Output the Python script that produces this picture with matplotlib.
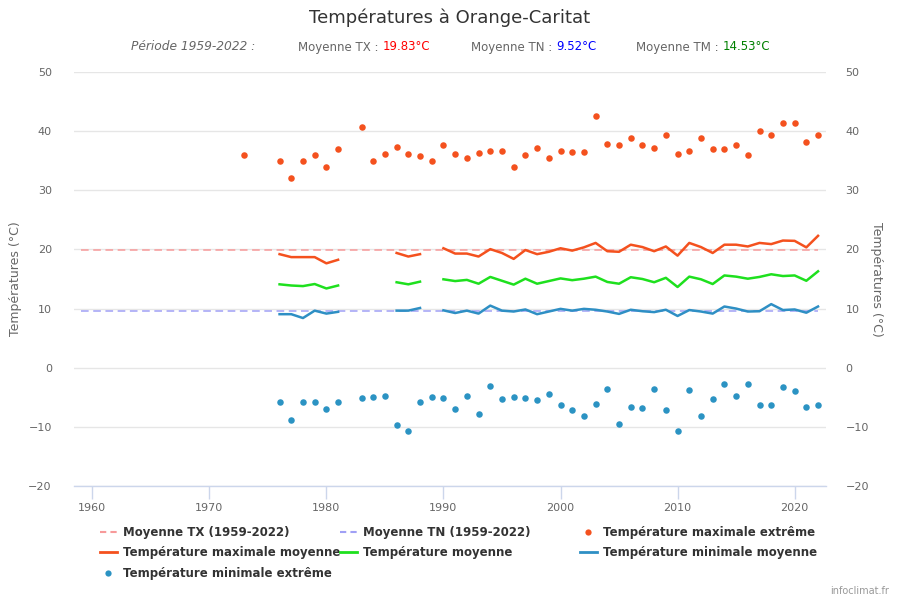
import numpy as np
import matplotlib
matplotlib.use("Agg")
import matplotlib.pyplot as plt
from matplotlib.lines import Line2D

# ---------------- data ----------------
avg_years = [1959, 2022]
avg_tx = 19.83
avg_tn = 9.52
avg_tm = 14.53

txx_years = [1973, 1976, 1977, 1978, 1979, 1980, 1981, 1983, 1984, 1985, 1986, 1987,
             1988, 1989, 1990, 1991, 1992, 1993, 1994, 1995, 1996, 1997, 1998, 1999,
             2000, 2001, 2002, 2003, 2004, 2005, 2006, 2007, 2008, 2009, 2010, 2011,
             2012, 2013, 2014, 2015, 2016, 2017, 2018, 2019, 2020, 2021, 2022]
txx_vals = [36.0, 35.0, 32.1, 35.0, 36.0, 33.9, 37.0, 40.7, 35.0, 36.2, 37.3, 36.2,
            35.8, 35.0, 37.7, 36.2, 35.5, 36.3, 36.7, 36.7, 33.9, 36.0, 37.2, 35.5,
            36.7, 36.5, 36.5, 42.6, 37.9, 37.7, 38.9, 37.7, 37.2, 39.3, 36.2, 36.7,
            38.9, 36.9, 36.9, 37.6, 35.9, 40.1, 39.3, 41.3, 41.3, 38.2, 39.3]

tnn_years = [1976, 1977, 1978, 1979, 1980, 1981, 1983, 1984, 1985, 1986, 1987, 1988,
             1989, 1990, 1991, 1992, 1993, 1994, 1995, 1996, 1997, 1998, 1999, 2000,
             2001, 2002, 2003, 2004, 2005, 2006, 2007, 2008, 2009, 2010, 2011, 2012,
             2013, 2014, 2015, 2016, 2017, 2018, 2019, 2020, 2021, 2022]
tnn_vals = [-5.85, -8.9, -5.85, -5.85, -6.9, -5.85, -5.2, -5.0, -4.7, -9.7, -10.7, -5.85,
            -5.0, -5.2, -7.0, -4.7, -7.9, -3.15, -5.35, -5.0, -5.2, -5.5, -4.5, -6.35,
            -7.2, -8.2, -6.2, -3.65, -9.55, -6.7, -6.85, -3.65, -7.2, -10.7, -3.8, -8.2,
            -5.35, -2.8, -4.85, -2.8, -6.35, -6.35, -3.3, -4.0, -6.6, -6.35]

nan = float("nan")
line_years = list(range(1976, 2023))
tx_mean = [19.2, 18.7, 18.7, 18.7, 17.65, 18.25, nan, nan, nan, nan,
           19.4, 18.8, 19.2, nan, 20.2, 19.3, 19.3, 18.8, 20.05, 19.4,
           18.4, 19.9, 19.2, 19.6, 20.2, 19.8, 20.35, 21.1, 19.7, 19.6,
           20.8, 20.4, 19.7, 20.5, 18.95, 21.1, 20.4, 19.4, 20.8, 20.8,
           20.5, 21.1, 20.9, 21.5, 21.45, 20.35, 22.3]
tm_mean = [14.1, 13.9, 13.8, 14.15, 13.4, 13.9, nan, nan, nan, nan,
           14.45, 14.1, 14.55, nan, 14.95, 14.65, 14.85, 14.2, 15.35, 14.7,
           14.05, 15.05, 14.2, 14.65, 15.1, 14.8, 15.05, 15.4, 14.5, 14.2,
           15.3, 15.0, 14.45, 15.2, 13.65, 15.4, 14.95, 14.15, 15.6, 15.4,
           15.05, 15.35, 15.8, 15.5, 15.6, 14.7, 16.3]
tn_mean = [9.05, 9.05, 8.4, 9.65, 9.15, 9.45, nan, nan, nan, nan,
           9.65, 9.65, 10.1, nan, 9.7, 9.25, 9.65, 9.15, 10.5, 9.65,
           9.5, 9.85, 9.05, 9.5, 9.95, 9.65, 9.95, 9.8, 9.5, 9.1,
           9.8, 9.55, 9.4, 9.8, 8.75, 9.75, 9.5, 9.15, 10.35, 10.0,
           9.5, 9.55, 10.75, 9.75, 9.85, 9.3, 10.35]

x_ticks = [1960, 1970, 1980, 1990, 2000, 2010, 2020]
y_ticks = [-20, -10, 0, 10, 20, 30, 40, 50]

# ---------------- style ----------------
C_ORANGE = "#f4511e"
C_GREEN = "#1ee01e"
C_BLUE = "#2e8fc4"
C_BLUEPT = "#2b93c3"
C_TXAVG = "#f79a9a"
C_TNAVG = "#a0a0f5"
GRID = "#e6e6e6"
AXIS = "#ccd6eb"
TXT = "#666666"

plt.rcParams["font.family"] = ["DejaVu Sans"]

fig = plt.figure(figsize=(9, 6), dpi=100)
ax = fig.add_axes([74 / 900, 1 - 486 / 600, (826 - 74) / 900, (486 - 72) / 600])

ax.set_xlim(1958.44, 2022.68)
ax.set_ylim(-20, 50)

for sp in ["top", "left", "right"]:
    ax.spines[sp].set_visible(False)
ax.spines["bottom"].set_color(AXIS)
ax.spines["bottom"].set_linewidth(1)

ax.set_yticks(y_ticks)
ax.set_xticks(x_ticks)
ax.tick_params(axis="y", length=0, pad=16, labelsize=8, labelcolor=TXT)
ax.tick_params(axis="x", length=9, width=1, color=AXIS, pad=3, labelsize=8, labelcolor=TXT)
ax.grid(axis="y", color=GRID, linewidth=1)
ax.set_axisbelow(True)

ax2 = ax.twinx()
ax2.set_ylim(ax.get_ylim())
ax2.set_yticks(y_ticks)
for sp in ["top", "left", "right", "bottom"]:
    ax2.spines[sp].set_visible(False)
ax2.tick_params(axis="y", length=0, pad=14, labelsize=8, labelcolor=TXT)

# averages
h_txavg, = ax.plot(avg_years, [avg_tx, avg_tx], color=C_TXAVG, lw=1.1, dashes=(5, 3),
                   label="Moyenne TX (1959-2022)")
h_tnavg, = ax.plot(avg_years, [avg_tn, avg_tn], color=C_TNAVG, lw=1.1, dashes=(5, 3),
                   label="Moyenne TN (1959-2022)")

# mean lines
h_txm, = ax.plot(line_years, tx_mean, color=C_ORANGE, lw=1.8, label="Température maximale moyenne")
h_tm, = ax.plot(line_years, tm_mean, color=C_GREEN, lw=1.8, label="Température moyenne")
h_tnm, = ax.plot(line_years, tn_mean, color=C_BLUE, lw=1.8, label="Température minimale moyenne")

# extremes
h_txx = ax.scatter(txx_years, txx_vals, s=22, color=C_ORANGE, zorder=5, linewidths=0,
                   label="Température maximale extrême")
h_tnn = ax.scatter(tnn_years, tnn_vals, s=22, color=C_BLUEPT, zorder=5, linewidths=0,
                   label="Température minimale extrême")

ax.set_ylabel("Températures (°C)", fontsize=9, color=TXT)
ax.yaxis.set_label_coords(-(74 - 22) / 752, 0.5)
ax2.set_ylabel("Températures (°C)", fontsize=9, color=TXT, rotation=270, va="center")
ax2.yaxis.set_label_coords(1 + (877 - 826) / 752, 0.5)

# title / subtitle
fig.text(0.5, 1 - 18 / 600, "Températures à Orange-Caritat", ha="center", va="center",
         fontsize=13, color="#333333")
sub_y = 1 - 47 / 600
fig.text(131 / 900, sub_y, "Période 1959-2022 :", ha="left", va="center", fontsize=8.8,
         color=TXT, style="italic")

def sub_pair(x0, label, value, col):
    t = fig.text(x0 / 900, sub_y, label, ha="left", va="center", fontsize=8.5, color=TXT)
    fig.canvas.draw()
    bb = t.get_window_extent()
    fig.text(bb.x1 / 900, sub_y, value, ha="left", va="center", fontsize=8.5, color=col)

sub_pair(298, "Moyenne TX : ", "19.83°C", "#ff0000")
sub_pair(471, "Moyenne TN : ", "9.52°C", "#0000ff")
sub_pair(636, "Moyenne TM : ", "14.53°C", "#008000")

# legends (three columns placed independently)
leg_kw = dict(frameon=False, prop={"weight": "bold", "size": 8.5},
              handlelength=1.4, handletextpad=0.55, labelspacing=0.62,
              borderaxespad=0, borderpad=0, labelcolor="#333333", loc="upper left")

def mk_line(c, dashed=False):
    if dashed:
        return Line2D([], [], color=c, lw=1.5, dashes=(3, 2))
    return Line2D([], [], color=c, lw=2)

def mk_pt(c):
    return Line2D([], [], color=c, marker="o", ls="none", markersize=4.5, markeredgewidth=0)

leg_top = 1 - 526 / 600
fig.legend([mk_line(C_TXAVG, True), mk_line(C_ORANGE), mk_pt(C_BLUEPT)],
           [h_txavg.get_label(), h_txm.get_label(), h_tnn.get_label()],
           bbox_to_anchor=(100 / 900, leg_top), **leg_kw)
fig.legend([mk_line(C_TNAVG, True), mk_line(C_GREEN)],
           [h_tnavg.get_label(), h_tm.get_label()],
           bbox_to_anchor=(340 / 900, leg_top), **leg_kw)
fig.legend([mk_pt(C_ORANGE), mk_line(C_BLUE)],
           [h_txx.get_label(), h_tnm.get_label()],
           bbox_to_anchor=(580 / 900, leg_top), **leg_kw)

fig.text(889 / 900, 1 - 591 / 600, "infoclimat.fr", ha="right", va="center", fontsize=7, color="#999999")

fig.savefig("out.png", dpi=100)
